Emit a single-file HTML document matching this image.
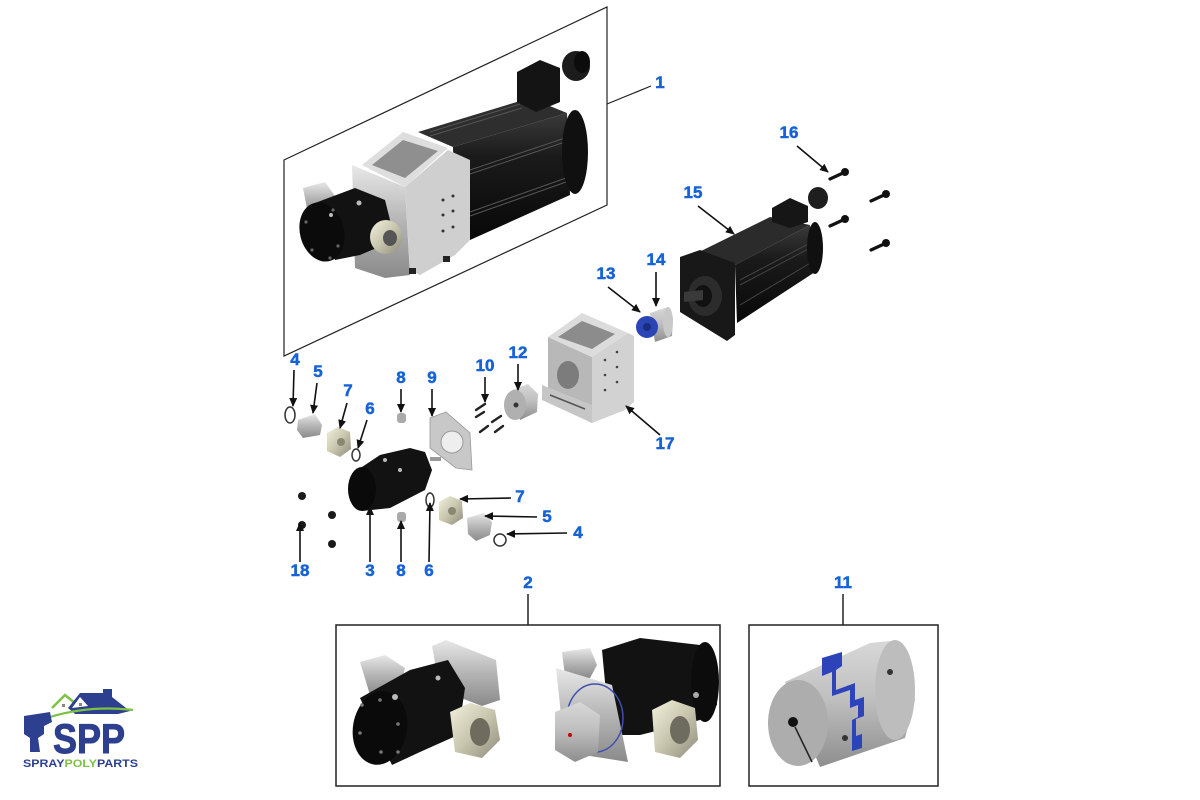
<!DOCTYPE html>
<html><head><meta charset="utf-8"><style>
html,body{margin:0;padding:0;background:#fff;width:1200px;height:800px;overflow:hidden}
svg{display:block}
.l{font-family:"Liberation Sans",sans-serif;font-weight:bold;font-size:17px;fill:#1763d6;stroke:#1763d6;stroke-width:0.5;text-anchor:middle}
.a{stroke:#111;stroke-width:1.6;fill:none;marker-end:url(#ah)}
.o{fill:none;stroke:#333;stroke-width:1.5}
</style></head><body>
<svg width="1200" height="800" viewBox="0 0 1200 800" xmlns="http://www.w3.org/2000/svg">
<defs>
<marker id="ah" markerWidth="9" markerHeight="8" refX="8" refY="4" orient="auto" markerUnits="userSpaceOnUse"><path d="M0,0 L9,4 L0,8 z" fill="#111"/></marker>
<linearGradient id="sil" x1="0" y1="0" x2="0" y2="1"><stop offset="0" stop-color="#e8e8e8"/><stop offset="0.5" stop-color="#b5b5b5"/><stop offset="1" stop-color="#8a8a8a"/></linearGradient>
<linearGradient id="sil2" x1="0" y1="0" x2="0" y2="1"><stop offset="0" stop-color="#d8d8d8"/><stop offset="0.45" stop-color="#c0c0c0"/><stop offset="1" stop-color="#8e8e8e"/></linearGradient>
<linearGradient id="blk" x1="0" y1="0" x2="0" y2="1"><stop offset="0" stop-color="#3a3a3a"/><stop offset="0.35" stop-color="#1a1a1a"/><stop offset="1" stop-color="#080808"/></linearGradient>
<linearGradient id="nut" x1="0" y1="0" x2="1" y2="1"><stop offset="0" stop-color="#f2f0dc"/><stop offset="0.5" stop-color="#c9c6ae"/><stop offset="1" stop-color="#8e8c7c"/></linearGradient>
</defs>

<!-- ===== Assembly 1 parallelogram ===== -->
<polygon points="284,160 607,7 607,205 284,356" fill="none" stroke="#222" stroke-width="1.2"/>
<line x1="607" y1="104" x2="651" y2="86" stroke="#222" stroke-width="1.2"/>

<!-- motor -->
<polygon points="418,132 530,98 567,113 453,147" fill="#2e2e2e"/>
<polygon points="453,147 567,113 570,195 470,240 455,232" fill="url(#blk)"/>
<g stroke="#555" stroke-width="1"><line x1="430" y1="132" x2="520" y2="104"/><line x1="430" y1="136" x2="522" y2="108"/><line x1="470" y1="170" x2="565" y2="138"/><line x1="470" y1="174" x2="565" y2="142"/><line x1="470" y1="212" x2="566" y2="178"/><line x1="470" y1="216" x2="566" y2="182"/></g>
<ellipse cx="575" cy="152" rx="13" ry="42" fill="#101010"/>
<polygon points="517,72 540,60 560,68 560,102 536,112 517,102" fill="#141414"/>
<ellipse cx="576" cy="66" rx="14" ry="15" fill="#1c1c1c"/>
<ellipse cx="582" cy="62" rx="8" ry="11" fill="#0c0c0c"/>

<!-- housing in assembly -->
<polygon points="405,187 448,150 470,160 470,240 455,255 420,275 410,270" fill="#cfcfcf"/>
<polygon points="352,165 405,187 410,275 385,278 355,268" fill="url(#sil)"/>
<polygon points="362,165 403,132 448,148 405,187" fill="#dedede"/>
<polygon points="372,165 403,140 438,151 405,178" fill="#8f8f8f"/>
<g fill="#333"><circle cx="443" cy="200" r="1.5"/><circle cx="453" cy="196" r="1.5"/><circle cx="443" cy="215" r="1.5"/><circle cx="453" cy="211" r="1.5"/><circle cx="443" cy="231" r="1.5"/><circle cx="453" cy="227" r="1.5"/></g>
<rect x="409" y="268" width="7" height="6" fill="#222"/><rect x="443" y="256" width="7" height="6" fill="#222"/>
<!-- pump in assembly -->
<polygon points="303,188 325,182 335,196 330,212 308,214" fill="url(#sil)"/>
<polygon points="315,203 355,188 385,200 395,240 360,255 335,260" fill="#121212"/>
<ellipse cx="322" cy="232" rx="22" ry="30" transform="rotate(-15 322 232)" fill="#0b0b0b"/>
<g fill="#666"><circle cx="306" cy="222" r="1.6"/><circle cx="312" cy="250" r="1.6"/><circle cx="333" cy="210" r="1.6"/><circle cx="338" cy="246" r="1.6"/><circle cx="330" cy="258" r="1.6"/></g>
<circle cx="359" cy="203" r="2.5" fill="#bbb"/><circle cx="331" cy="215" r="2" fill="#bbb"/>
<ellipse cx="386" cy="237" rx="16" ry="17" fill="url(#nut)"/>
<ellipse cx="390" cy="238" rx="7" ry="8" fill="#555"/>

<!-- ===== Motor 15 ===== -->
<polygon points="697,253 770,217 810,225 735,265" fill="#2b2b2b"/>
<polygon points="735,265 810,225 815,272 737,323" fill="url(#blk)"/>
<g stroke="#444" stroke-width="1"><line x1="740" y1="280" x2="812" y2="242"/><line x1="740" y1="285" x2="812" y2="247"/><line x1="740" y1="305" x2="812" y2="262"/></g>
<ellipse cx="815" cy="248" rx="8" ry="26" fill="#101010"/>
<polygon points="680,257 700,250 735,263 735,335 727,341 680,312" fill="#181818"/>
<ellipse cx="705" cy="296" rx="17" ry="20" fill="#2c2c2c"/>
<ellipse cx="703" cy="296" rx="9" ry="11" fill="#111"/>
<polygon points="684,292 703,290 703,300 684,302" fill="#3a3a3a"/>
<polygon points="772,208 790,198 808,206 808,222 790,228 772,222" fill="#161616"/>
<ellipse cx="818" cy="198" rx="10" ry="11" fill="#1e1e1e"/>
<!-- bolts 16 -->
<g stroke="#111" stroke-width="3.2" stroke-linecap="round"><line x1="830" y1="179" x2="843" y2="173"/><line x1="871" y1="201" x2="884" y2="195"/><line x1="830" y1="226" x2="843" y2="220"/><line x1="871" y1="250" x2="884" y2="244"/></g>
<g fill="#111"><circle cx="845" cy="172" r="4"/><circle cx="886" cy="194" r="4"/><circle cx="845" cy="219" r="4"/><circle cx="886" cy="243" r="4"/></g>

<!-- coupling 13/14 -->
<polygon points="650,313 668,307 673,318 672,336 655,342" fill="url(#sil2)"/>
<ellipse cx="668" cy="322" rx="5" ry="15" fill="#c9c9c9"/>
<circle cx="647" cy="327" r="11" fill="#2b45b5"/>
<circle cx="647" cy="327" r="4" fill="#1a2c80"/>

<!-- housing 17 -->
<polygon points="592,357 628,333 634,336 634,402 625,410 592,423" fill="#d2d2d2"/>
<polygon points="548,337 592,357 592,423 548,395" fill="#b8b8b8"/>
<polygon points="548,337 582,313 628,333 592,357" fill="#dcdcdc"/>
<polygon points="558,337 582,321 615,334 592,349" fill="#8c8c8c"/>
<ellipse cx="568" cy="375" rx="11" ry="14" fill="#7c7c7c"/>
<polygon points="542,385 592,405 592,423 542,400" fill="#c6c6c6"/>
<line x1="550" y1="395" x2="585" y2="409" stroke="#555" stroke-width="1.5"/>
<g fill="#444"><circle cx="605" cy="360" r="1.3"/><circle cx="617" cy="352" r="1.3"/><circle cx="605" cy="375" r="1.3"/><circle cx="617" cy="367" r="1.3"/><circle cx="605" cy="390" r="1.3"/><circle cx="617" cy="382" r="1.3"/></g>

<!-- 12 -->
<polygon points="512,390 528,384 538,394 537,412 520,420" fill="url(#sil2)"/>
<ellipse cx="515" cy="405" rx="11" ry="15" fill="#b0b0b0"/>
<circle cx="516" cy="405" r="2.5" fill="#333"/>
<!-- 10 screws -->
<g stroke="#222" stroke-width="2.4" stroke-linecap="round"><line x1="476" y1="410" x2="485" y2="404"/><line x1="476" y1="417" x2="484" y2="412"/><line x1="492" y1="422" x2="501" y2="416"/><line x1="480" y1="432" x2="488" y2="426"/><line x1="495" y1="432" x2="503" y2="426"/></g>
<!-- 9 plate -->
<polygon points="430,418 446,412 470,433 472,470 456,468 430,448" fill="#c8c8c8" stroke="#999" stroke-width="0.8"/>
<circle cx="452" cy="442" r="11" fill="#eee" stroke="#999"/>
<!-- 8 -->
<rect x="397" y="413" width="9" height="10" rx="3" fill="#aaa"/>
<rect x="397" y="512" width="9" height="10" rx="3" fill="#aaa"/>
<!-- 3 pump -->
<polygon points="362,467 380,455 410,448 425,452 432,470 425,490 390,508 362,511" fill="#121212"/>
<ellipse cx="362" cy="489" rx="14" ry="22" fill="#0a0a0a"/>
<rect x="430" y="457" width="11" height="4" fill="#999"/>
<g fill="#bbb"><circle cx="385" cy="460" r="2"/><circle cx="400" cy="470" r="2"/></g>
<!-- o-rings -->
<ellipse class="o" cx="290" cy="415" rx="5" ry="8"/>
<ellipse class="o" cx="356" cy="455" rx="4" ry="6"/>
<ellipse class="o" cx="430" cy="500" rx="4" ry="7"/>
<ellipse class="o" cx="500" cy="540" rx="6" ry="6"/>
<!-- fittings / nuts -->
<polygon points="298,420 315,414 322,425 320,435 303,438 297,430" fill="url(#sil)"/>
<polygon points="327,433 338,427 350,432 351,449 340,457 327,451" fill="url(#nut)"/>
<circle cx="341" cy="442" r="4" fill="#8a8872"/>
<polygon points="439,502 450,496 462,501 463,518 452,525 439,520" fill="url(#nut)"/>
<circle cx="452" cy="511" r="4" fill="#8a8872"/>
<polygon points="467,518 484,513 492,522 490,535 476,541 468,534" fill="url(#sil)"/>
<!-- 18 bolts -->
<g fill="#1a1a1a"><circle cx="302" cy="496" r="4"/><circle cx="332" cy="515" r="4"/><circle cx="302" cy="525" r="4"/><circle cx="332" cy="544" r="4"/></g>

<!-- ===== Labels ===== -->
<text class="l" x="660" y="88">1</text>
<text class="l" x="789" y="138">16</text>
<text class="l" x="693" y="198">15</text>
<text class="l" x="606" y="279">13</text>
<text class="l" x="656" y="265">14</text>
<text class="l" x="518" y="358">12</text>
<text class="l" x="485" y="371">10</text>
<text class="l" x="432" y="383">9</text>
<text class="l" x="401" y="383">8</text>
<text class="l" x="348" y="396">7</text>
<text class="l" x="370" y="414">6</text>
<text class="l" x="318" y="377">5</text>
<text class="l" x="295" y="365">4</text>
<text class="l" x="665" y="449">17</text>
<text class="l" x="520" y="502">7</text>
<text class="l" x="547" y="522">5</text>
<text class="l" x="578" y="538">4</text>
<text class="l" x="300" y="576">18</text>
<text class="l" x="370" y="576">3</text>
<text class="l" x="401" y="576">8</text>
<text class="l" x="429" y="576">6</text>
<text class="l" x="528" y="588">2</text>
<text class="l" x="843" y="588">11</text>

<!-- ===== Arrows ===== -->
<line class="a" x1="797" y1="146" x2="828" y2="172"/>
<line class="a" x1="698" y1="206" x2="734" y2="234"/>
<line class="a" x1="608" y1="287" x2="640" y2="312"/>
<line class="a" x1="656" y1="272" x2="656" y2="306"/>
<line class="a" x1="518" y1="364" x2="518" y2="390"/>
<line class="a" x1="485" y1="377" x2="485" y2="402"/>
<line class="a" x1="432" y1="389" x2="432" y2="416"/>
<line class="a" x1="401" y1="389" x2="401" y2="412"/>
<line class="a" x1="347" y1="403" x2="340" y2="428"/>
<line class="a" x1="367" y1="420" x2="358" y2="448"/>
<line class="a" x1="317" y1="383" x2="313" y2="413"/>
<line class="a" x1="294" y1="370" x2="293" y2="406"/>
<line class="a" x1="660" y1="435" x2="626" y2="406"/>
<line class="a" x1="511" y1="498" x2="460" y2="499"/>
<line class="a" x1="537" y1="517" x2="485" y2="516"/>
<line class="a" x1="567" y1="533" x2="507" y2="534"/>
<line class="a" x1="300" y1="562" x2="300" y2="523"/>
<line class="a" x1="370" y1="562" x2="370" y2="507"/>
<line class="a" x1="401" y1="562" x2="401" y2="521"/>
<line class="a" x1="429" y1="562" x2="430" y2="503"/>

<!-- ===== Box 2 ===== -->
<line x1="528" y1="594" x2="528" y2="625" stroke="#222" stroke-width="1.5"/>
<rect x="336" y="625" width="384" height="161" fill="none" stroke="#222" stroke-width="1.5"/>
<!-- left assembly -->
<polygon points="432,646 446,640 496,660 500,700 482,706 440,690" fill="url(#sil)"/>
<polygon points="360,662 385,655 405,668 400,690 370,695" fill="url(#sil)"/>
<polygon points="360,698 410,670 448,660 465,688 458,735 420,752 392,765" fill="#121212"/>
<ellipse cx="380" cy="728" rx="27" ry="37" transform="rotate(10 380 728)" fill="#0a0a0a"/>
<g fill="#777"><circle cx="362" cy="705" r="1.8"/><circle cx="360" cy="733" r="1.8"/><circle cx="381" cy="752" r="1.8"/><circle cx="398" cy="724" r="1.8"/><circle cx="398" cy="752" r="1.8"/><circle cx="380" cy="700" r="1.8"/></g>
<circle cx="395" cy="697" r="3" fill="#bbb"/><circle cx="438" cy="678" r="2.5" fill="#bbb"/>
<polygon points="450,712 470,703 495,710 500,740 482,758 455,752" fill="url(#nut)"/>
<ellipse cx="480" cy="732" rx="10" ry="14" fill="#6e6c5e"/>
<!-- right assembly -->
<polygon points="602,650 640,638 700,645 717,665 717,705 700,720 640,735 610,735" fill="#121212"/>
<ellipse cx="705" cy="682" rx="14" ry="40" fill="#0c0c0c"/>
<circle cx="696" cy="695" r="3" fill="#aaa"/>
<polygon points="562,652 590,648 597,665 590,678 565,676" fill="url(#sil)"/>
<polygon points="556,668 612,685 628,762 565,752" fill="url(#sil)"/>
<ellipse cx="595" cy="718" rx="28" ry="34" fill="none" stroke="#4050b0" stroke-width="1.5"/>
<polygon points="555,712 580,702 600,715 598,752 575,762 555,750" fill="url(#sil2)"/>
<circle cx="570" cy="735" r="2" fill="#c00"/>
<polygon points="652,710 672,700 695,708 698,740 680,758 655,752" fill="url(#nut)"/>
<ellipse cx="680" cy="730" rx="10" ry="14" fill="#6e6c5e"/>

<!-- ===== Box 11 ===== -->
<line x1="843" y1="594" x2="843" y2="625" stroke="#222" stroke-width="1.5"/>
<rect x="749" y="625" width="189" height="161" fill="none" stroke="#222" stroke-width="1.5"/>
<polygon points="785,682 870,643 890,641 905,660 915,700 905,738 820,767" fill="url(#sil2)"/>
<ellipse cx="895" cy="690" rx="20" ry="50" fill="#bdbdbd"/>
<path d="M822,658 L842,652 L842,666 L836,670 L836,690 L855,683 L855,700 L864,697 L864,716 L856,719 L856,736 L862,734 L862,748 L852,751 L852,720 L858,717 L858,705 L850,708 L850,690 L832,696 L832,672 L822,676 Z" fill="#2d44b8"/>
<ellipse cx="798" cy="723" rx="30" ry="43" fill="#adadad"/>
<circle cx="793" cy="722" r="5" fill="#111"/>
<line x1="795" y1="727" x2="812" y2="762" stroke="#222" stroke-width="1.5"/>
<circle cx="890" cy="672" r="3" fill="#333"/><circle cx="845" cy="738" r="3" fill="#333"/>

<!-- ===== Logo ===== -->
<path d="M52,708 L65,695 L76,704" fill="none" stroke="#7dc242" stroke-width="2.5"/>
<polygon points="68,708 80,693 103,693 103,689 112,689 112,697 130,711 118,714 75,714" fill="#2d3f8f"/>
<polygon points="72,708 80,697 88,706" fill="#fff"/>
<rect x="62" y="704" width="3" height="3" fill="#888"/><rect x="79" y="703" width="3" height="3" fill="#888"/>
<path d="M50,717 Q90,705 133,710" fill="none" stroke="#7dc242" stroke-width="2.2"/>
<path d="M24,716 L50,712 L52,722 L44,726 L44,734 L38,738 L40,752 L30,752 L30,738 L24,734 Z" fill="#2d3f8f"/>
<text x="53" y="753" font-family="Liberation Sans,sans-serif" font-weight="bold" font-size="42" fill="#2d3f8f" stroke="#2d3f8f" stroke-width="1" textLength="72" lengthAdjust="spacingAndGlyphs">SPP</text>
<text x="23" y="767" font-family="Liberation Sans,sans-serif" font-weight="bold" font-size="11" fill="#2d3f8f" textLength="115" lengthAdjust="spacingAndGlyphs">SPRAY<tspan fill="#7dc242">POLY</tspan>PARTS</text>
</svg>
</body></html>
